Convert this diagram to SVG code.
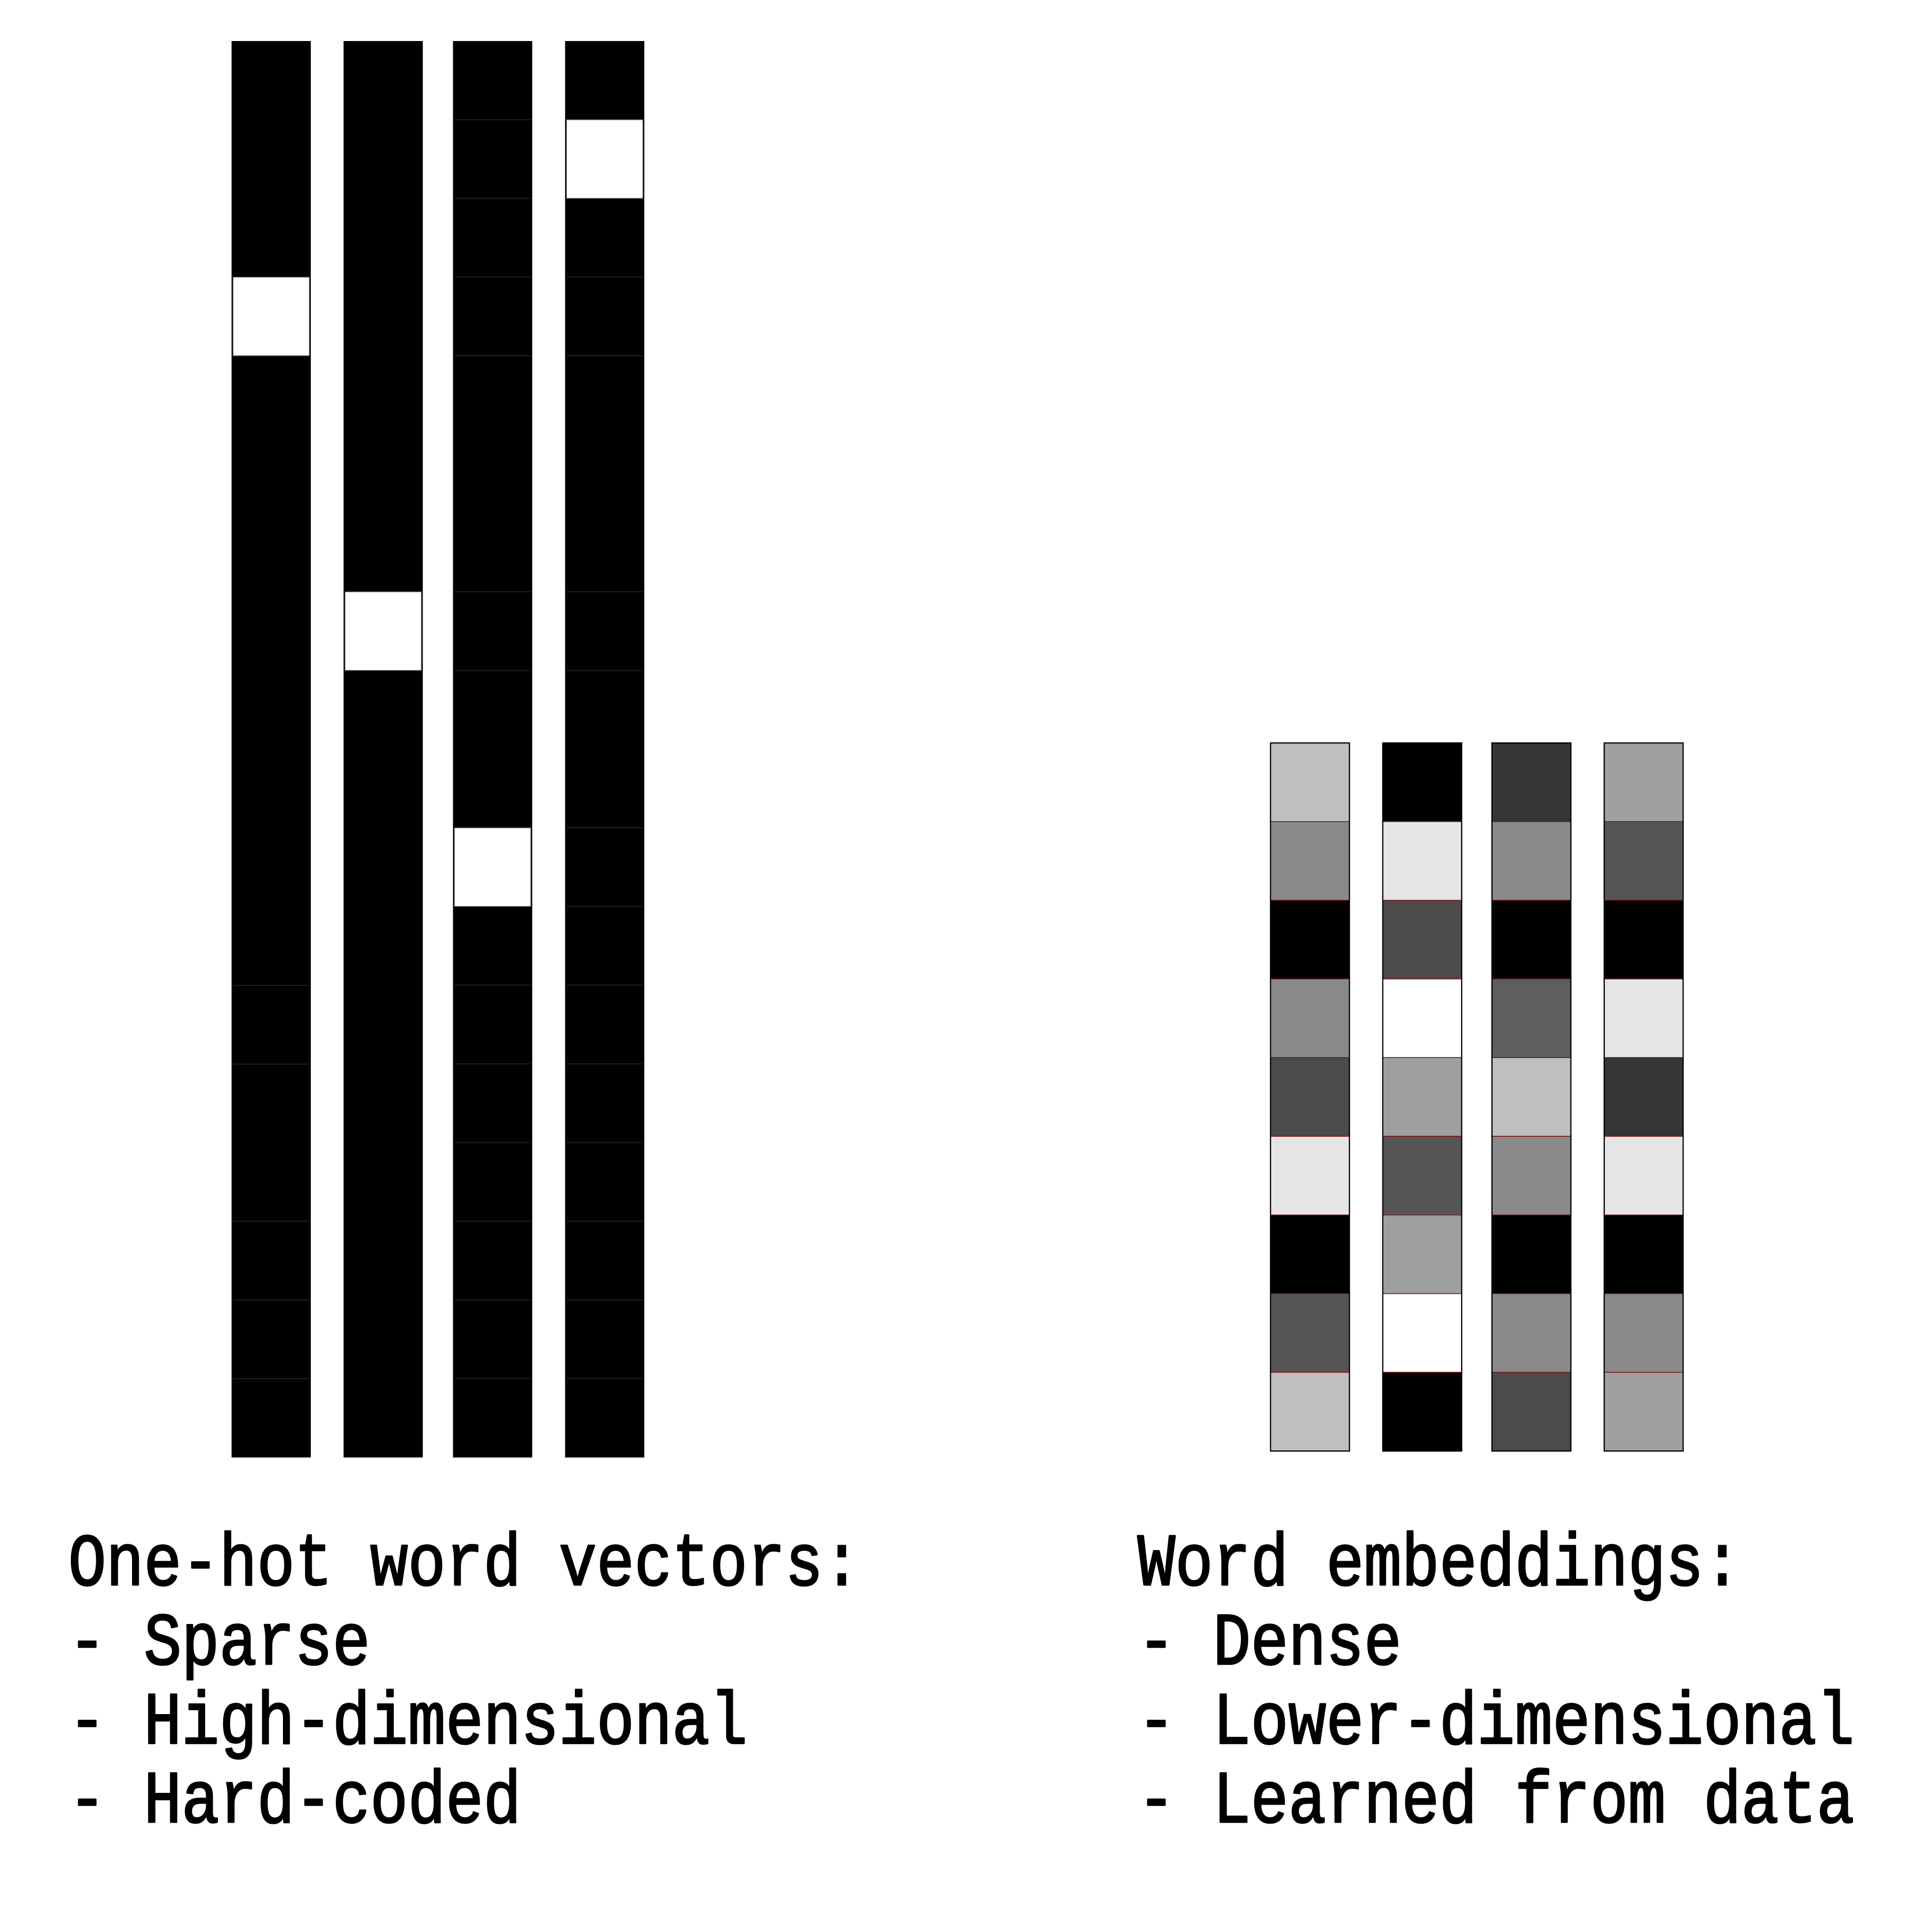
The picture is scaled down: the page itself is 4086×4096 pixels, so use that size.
<svg xmlns="http://www.w3.org/2000/svg" width="4086" height="4096" viewBox="0 0 4086 4096">
<style>
.bg{fill:#ffffff}
.oh{fill:#000000}
.hot{fill:#ffffff;stroke:#555555;stroke-width:1.5}
.gl{stroke:#222222;stroke-width:2}
.ec{stroke:#7a1414;stroke-width:1.6}
.eo{fill:none;stroke:#000000;stroke-width:2.5}
.t{font-family:"Liberation Mono","DejaVu Sans Mono",monospace;font-size:133.33px;fill:#000000;stroke:#000000;stroke-width:3;stroke-linejoin:round}
</style>
<rect class="bg" x="0" y="0" width="4086" height="4096"/>
<g id="onehot">
<g id="onehot-1">
<rect class="oh" x="491" y="87" width="168" height="3003"/>
<rect class="hot" x="494" y="587.5" width="162" height="166.8"/>
<line class="gl" x1="494" y1="2089" x2="656" y2="2089"/>
<line class="gl" x1="494" y1="2256" x2="656" y2="2256"/>
<line class="gl" x1="494" y1="2589" x2="656" y2="2589"/>
<line class="gl" x1="494" y1="2756" x2="656" y2="2756"/>
<line class="gl" x1="494" y1="2923" x2="656" y2="2923"/>
</g>
<g id="onehot-2">
<rect class="oh" x="728.5" y="87" width="168" height="3003"/>
<rect class="hot" x="731.5" y="1254.6" width="162" height="166.8"/>
</g>
<g id="onehot-3">
<rect class="oh" x="960.5" y="87" width="168" height="3003"/>
<rect class="hot" x="963.5" y="1755" width="162" height="166.8"/>
<line class="gl" x1="963.5" y1="253.8" x2="1125.5" y2="253.8"/>
<line class="gl" x1="963.5" y1="420.6" x2="1125.5" y2="420.6"/>
<line class="gl" x1="963.5" y1="587.4" x2="1125.5" y2="587.4"/>
<line class="gl" x1="963.5" y1="754.2" x2="1125.5" y2="754.2"/>
<line class="gl" x1="963.5" y1="1254.6" x2="1125.5" y2="1254.6"/>
<line class="gl" x1="963.5" y1="1421.4" x2="1125.5" y2="1421.4"/>
<line class="gl" x1="963.5" y1="2088.6" x2="1125.5" y2="2088.6"/>
<line class="gl" x1="963.5" y1="2255.4" x2="1125.5" y2="2255.4"/>
<line class="gl" x1="963.5" y1="2422.2" x2="1125.5" y2="2422.2"/>
<line class="gl" x1="963.5" y1="2589" x2="1125.5" y2="2589"/>
<line class="gl" x1="963.5" y1="2755.8" x2="1125.5" y2="2755.8"/>
<line class="gl" x1="963.5" y1="2922.6" x2="1125.5" y2="2922.6"/>
</g>
<g id="onehot-4">
<rect class="oh" x="1198.2" y="87" width="168" height="3003"/>
<rect class="hot" x="1201.2" y="253.8" width="162" height="166.8"/>
<line class="gl" x1="1201.2" y1="587.4" x2="1363.2" y2="587.4"/>
<line class="gl" x1="1201.2" y1="754.2" x2="1363.2" y2="754.2"/>
<line class="gl" x1="1201.2" y1="1254.6" x2="1363.2" y2="1254.6"/>
<line class="gl" x1="1201.2" y1="1421.4" x2="1363.2" y2="1421.4"/>
<line class="gl" x1="1201.2" y1="1755" x2="1363.2" y2="1755"/>
<line class="gl" x1="1201.2" y1="1921.8" x2="1363.2" y2="1921.8"/>
<line class="gl" x1="1201.2" y1="2088.6" x2="1363.2" y2="2088.6"/>
<line class="gl" x1="1201.2" y1="2255.4" x2="1363.2" y2="2255.4"/>
<line class="gl" x1="1201.2" y1="2422.2" x2="1363.2" y2="2422.2"/>
<line class="gl" x1="1201.2" y1="2589" x2="1363.2" y2="2589"/>
<line class="gl" x1="1201.2" y1="2755.8" x2="1363.2" y2="2755.8"/>
<line class="gl" x1="1201.2" y1="2922.6" x2="1363.2" y2="2922.6"/>
</g>
</g>
<g id="embeddings">
<g id="emb-1">
<rect class="ec" x="2694" y="1575.1" width="167.3" height="166.8" fill="#bfbfbf"/>
<rect class="ec" x="2694" y="1741.9" width="167.3" height="166.8" fill="#8a8a8a"/>
<rect class="ec" x="2694" y="1908.7" width="167.3" height="166.8" fill="#000000"/>
<rect class="ec" x="2694" y="2075.5" width="167.3" height="166.8" fill="#8a8a8a"/>
<rect class="ec" x="2694" y="2242.3" width="167.3" height="166.8" fill="#4b4b4b"/>
<rect class="ec" x="2694" y="2409.1" width="167.3" height="166.8" fill="#e5e5e5"/>
<rect class="ec" x="2694" y="2575.9" width="167.3" height="166.8" fill="#000000"/>
<rect class="ec" x="2694" y="2742.7" width="167.3" height="166.8" fill="#555555"/>
<rect class="ec" x="2694" y="2909.5" width="167.3" height="166.8" fill="#bfbfbf"/>
<rect class="eo" x="2694" y="1575.1" width="167.3" height="1501.2"/>
</g>
<g id="emb-2">
<rect class="ec" x="2932" y="1575.1" width="167.3" height="166.8" fill="#000000"/>
<rect class="ec" x="2932" y="1741.9" width="167.3" height="166.8" fill="#e5e5e5"/>
<rect class="ec" x="2932" y="1908.7" width="167.3" height="166.8" fill="#4b4b4b"/>
<rect class="ec" x="2932" y="2075.5" width="167.3" height="166.8" fill="#ffffff"/>
<rect class="ec" x="2932" y="2242.3" width="167.3" height="166.8" fill="#9f9f9f"/>
<rect class="ec" x="2932" y="2409.1" width="167.3" height="166.8" fill="#555555"/>
<rect class="ec" x="2932" y="2575.9" width="167.3" height="166.8" fill="#9f9f9f"/>
<rect class="ec" x="2932" y="2742.7" width="167.3" height="166.8" fill="#ffffff"/>
<rect class="ec" x="2932" y="2909.5" width="167.3" height="166.8" fill="#000000"/>
<rect class="eo" x="2932" y="1575.1" width="167.3" height="1501.2"/>
</g>
<g id="emb-3">
<rect class="ec" x="3163.6" y="1575.1" width="167.3" height="166.8" fill="#363636"/>
<rect class="ec" x="3163.6" y="1741.9" width="167.3" height="166.8" fill="#8a8a8a"/>
<rect class="ec" x="3163.6" y="1908.7" width="167.3" height="166.8" fill="#000000"/>
<rect class="ec" x="3163.6" y="2075.5" width="167.3" height="166.8" fill="#5e5e5e"/>
<rect class="ec" x="3163.6" y="2242.3" width="167.3" height="166.8" fill="#bfbfbf"/>
<rect class="ec" x="3163.6" y="2409.1" width="167.3" height="166.8" fill="#8a8a8a"/>
<rect class="ec" x="3163.6" y="2575.9" width="167.3" height="166.8" fill="#000000"/>
<rect class="ec" x="3163.6" y="2742.7" width="167.3" height="166.8" fill="#8a8a8a"/>
<rect class="ec" x="3163.6" y="2909.5" width="167.3" height="166.8" fill="#4b4b4b"/>
<rect class="eo" x="3163.6" y="1575.1" width="167.3" height="1501.2"/>
</g>
<g id="emb-4">
<rect class="ec" x="3401.6" y="1575.1" width="167.3" height="166.8" fill="#9f9f9f"/>
<rect class="ec" x="3401.6" y="1741.9" width="167.3" height="166.8" fill="#555555"/>
<rect class="ec" x="3401.6" y="1908.7" width="167.3" height="166.8" fill="#000000"/>
<rect class="ec" x="3401.6" y="2075.5" width="167.3" height="166.8" fill="#e5e5e5"/>
<rect class="ec" x="3401.6" y="2242.3" width="167.3" height="166.8" fill="#363636"/>
<rect class="ec" x="3401.6" y="2409.1" width="167.3" height="166.8" fill="#e5e5e5"/>
<rect class="ec" x="3401.6" y="2575.9" width="167.3" height="166.8" fill="#000000"/>
<rect class="ec" x="3401.6" y="2742.7" width="167.3" height="166.8" fill="#8a8a8a"/>
<rect class="ec" x="3401.6" y="2909.5" width="167.3" height="166.8" fill="#9f9f9f"/>
<rect class="eo" x="3401.6" y="1575.1" width="167.3" height="1501.2"/>
</g>
</g>
<g id="label-onehot" transform="scale(1,1.1775)">
<text class="t" x="145" y="2853.5">One-hot word vectors:</text>
<text class="t" x="145" y="2996.2">- Sparse</text>
<text class="t" x="145" y="3138.9">- High-dimensional</text>
<text class="t" x="145" y="3280.7">- Hard-coded</text>
</g>
<g id="label-embeddings" transform="scale(1,1.1775)">
<text class="t" x="2412" y="2853.5">Word embeddings:</text>
<text class="t" x="2412" y="2996.2">- Dense</text>
<text class="t" x="2412" y="3138.9">- Lower-dimensional</text>
<text class="t" x="2412" y="3280.7">- Learned from data</text>
</g>
</svg>
